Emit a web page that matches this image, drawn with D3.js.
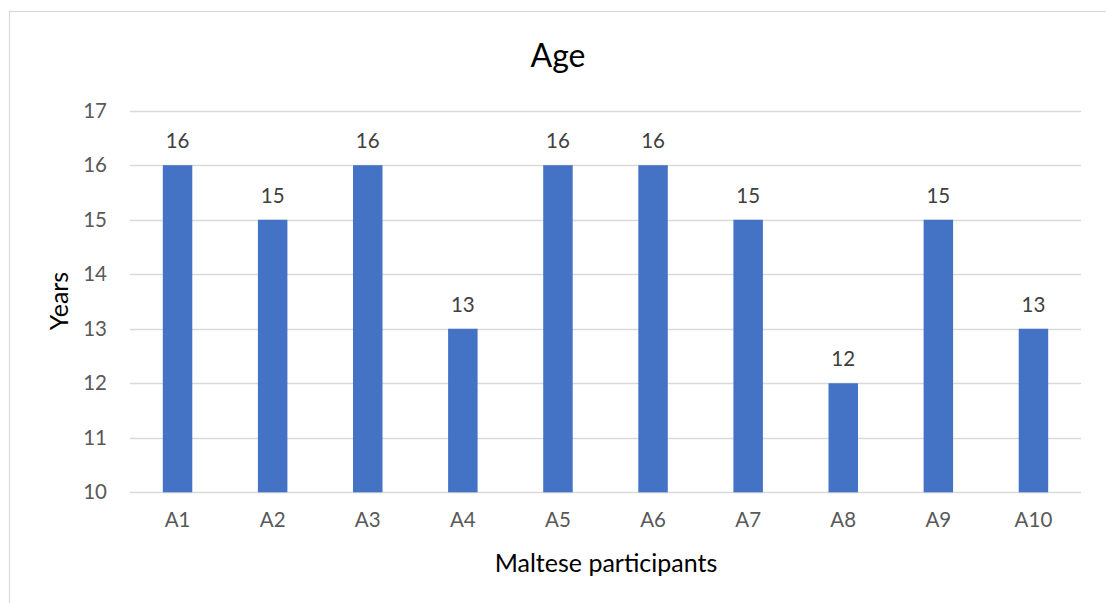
<!DOCTYPE html>
<html>
<head>
<meta charset="utf-8">
<script src="https://cdn.jsdelivr.net/npm/d3@7"></script>
<style>
  html, body { margin: 0; padding: 0; background: #fff; }
  svg { display: block; }
</style>
</head>
<body>
<svg id="chart" width="1106" height="603"></svg>
<script>
// Participant ages
const participants = ["A1", "A2", "A3", "A4", "A5", "A6", "A7", "A8", "A9", "A10"];
const ages = [16, 15, 16, 13, 16, 16, 15, 12, 15, 13];
const yTicks = [10, 11, 12, 13, 14, 15, 16, 17];

const chartTitle = "Age";
const xTitle = "Maltese participants";
const yTitle = "Years";

const font = "Lato, 'Open Sans', sans-serif";
const svg = d3.select("#chart");

// Chart area frame (extends past the right and bottom edges)
svg.append("rect")
  .attr("x", 9.5).attr("y", 11.5)
  .attr("width", 1120).attr("height", 620)
  .attr("fill", "#fff")
  .attr("stroke", "#d9d9d9")
  .attr("stroke-width", 1.2);

const plot = { left: 130, right: 1081, top: 110.7, bottom: 492.3 };

const x = d3.scaleBand()
  .domain(participants)
  .range([plot.left, plot.right])
  .paddingInner(0.69)
  .paddingOuter(0.345);

const y = d3.scaleLinear()
  .domain([10, 17])
  .range([plot.bottom, plot.top]);

// Horizontal gridlines
svg.append("g")
  .selectAll("line")
  .data(yTicks)
  .join("line")
  .attr("x1", plot.left).attr("x2", plot.right)
  .attr("y1", d => Math.round(y(d)) + 0.5)
  .attr("y2", d => Math.round(y(d)) + 0.5)
  .attr("stroke", "#d9d9d9")
  .attr("stroke-width", 1.3);

// Y axis labels
const yAxis = d3.axisLeft(y).tickValues(yTicks).tickFormat(d3.format("d")).tickSize(0).tickPadding(0);
svg.append("g")
  .attr("transform", `translate(${plot.left - 23},0)`)
  .call(yAxis)
  .call(g => g.select(".domain").remove())
  .call(g => g.selectAll("text")
    .attr("font-family", font)
    .attr("font-size", 20.5)
    .attr("fill", "#595959"));

// X axis labels
const xAxis = d3.axisBottom(x).tickSize(0).tickPadding(0);
svg.append("g")
  .attr("transform", `translate(0,${plot.bottom + 20})`)
  .call(xAxis)
  .call(g => g.select(".domain").remove())
  .call(g => g.selectAll("text")
    .attr("font-family", font)
    .attr("font-size", 20.5)
    .attr("fill", "#595959"));

// Bars
const rows = participants.map((p, i) => ({ p, v: ages[i] }));
svg.append("g")
  .selectAll("rect")
  .data(rows)
  .join("rect")
  .attr("x", d => x(d.p))
  .attr("width", x.bandwidth())
  .attr("y", d => y(d.v))
  .attr("height", d => y(10) - y(d.v))
  .attr("fill", "#4472c4");

// Value labels
svg.append("g")
  .selectAll("text")
  .data(rows)
  .join("text")
  .attr("x", d => x(d.p) + x.bandwidth() / 2)
  .attr("y", d => y(d.v) - 17)
  .attr("text-anchor", "middle")
  .attr("font-family", font)
  .attr("font-size", 20.5)
  .attr("fill", "#404040")
  .text(d => d.v);

// Titles
svg.append("text")
  .attr("x", 558).attr("y", 67)
  .attr("text-anchor", "middle")
  .attr("font-family", font)
  .attr("font-size", 32)
  .attr("fill", "#000")
  .text(chartTitle);

svg.append("text")
  .attr("x", 606).attr("y", 572)
  .attr("text-anchor", "middle")
  .attr("font-family", font)
  .attr("font-size", 25)
  .attr("fill", "#000")
  .text(xTitle);

svg.append("text")
  .attr("transform", "translate(68,301) rotate(-90)")
  .attr("text-anchor", "middle")
  .attr("font-family", font)
  .attr("font-size", 25)
  .attr("fill", "#000")
  .text(yTitle);
</script>
</body>
</html>
